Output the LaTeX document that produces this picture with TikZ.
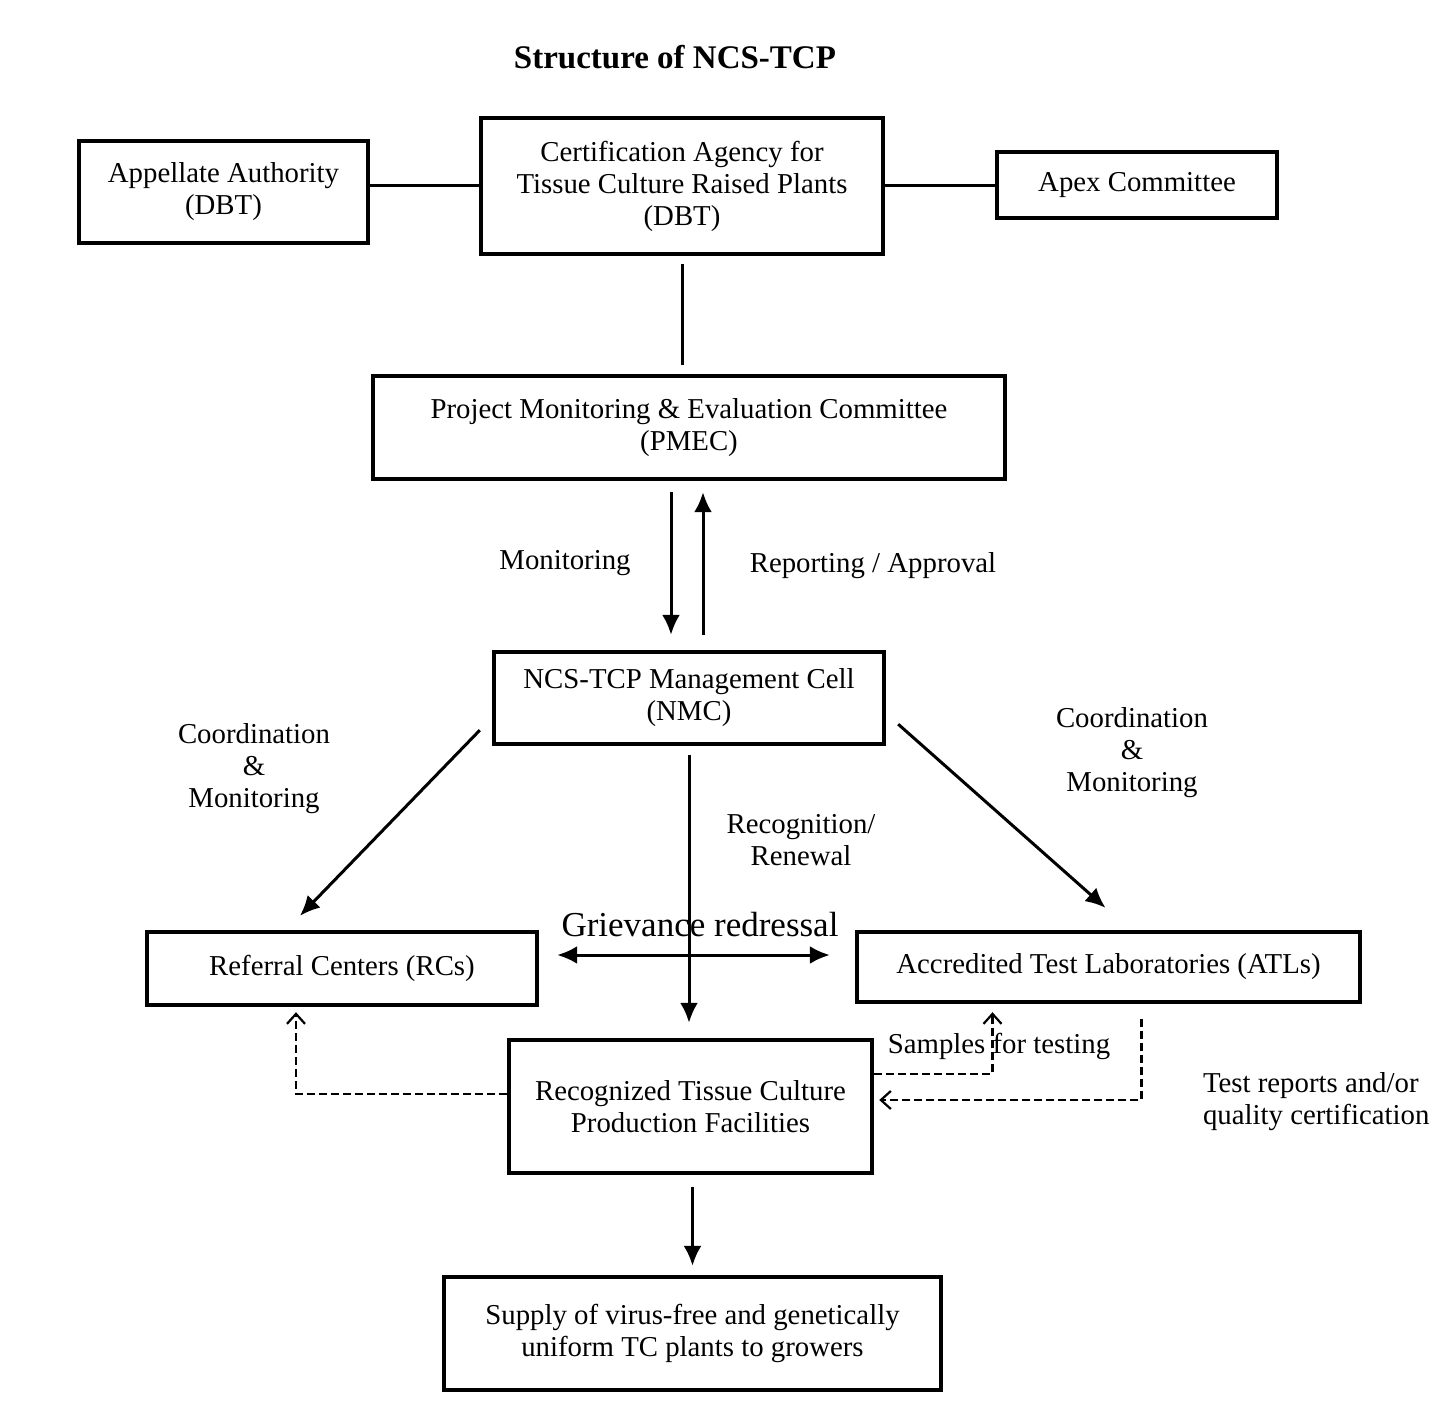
\documentclass[tikz,border=0pt]{standalone}
\usepackage{fontspec}
\setmainfont{Liberation Serif}
\usetikzlibrary{arrows.meta}
\newcommand{\boxfont}{\fontsize{14.4}{16}\selectfont}

\begin{document}
\begin{tikzpicture}[x=0.5pt,y=-0.5pt,
        box/.style={draw, line width=2.2pt, align=center, inner sep=0pt, font=\boxfont},
        lbl/.style={align=center, font=\boxfont},
        link/.style={line width=1.5pt},
        flow/.style={line width=1.5pt, -{Latex[length=10pt,width=9pt]}},
        dashflow/.style={line width=1.1pt, dash pattern=on 4pt off 2pt, -{Straight Barb[length=5pt,width=9pt]}}
    ]
    \useasboundingbox (0,0) rectangle (1455,1423);

    \node[font=\fontsize{16.5}{18}\selectfont\bfseries] (title) at (675,57) {Structure of NCS-TCP};

    % top row
    \node[box, minimum width=144.5pt, minimum height=51pt] (appellate) at (223.5,192) {Appellate Authority\\(DBT)};
    \node[box, minimum width=201pt, minimum height=68pt] (certagency) at (682,186) {Certification Agency for\\Tissue Culture Raised Plants\\(DBT)};
    \node[box, minimum width=140pt, minimum height=33pt] (apex) at (1137,185) {Apex Committee};

    \node[box, minimum width=316pt, minimum height=51.5pt] (pmec) at (689,427.5) {Project Monitoring \& Evaluation Committee\\(PMEC)};
    \node[box, minimum width=195pt, minimum height=46pt] (nmc) at (689,698) {NCS-TCP Management Cell\\(NMC)};

    \node[box, minimum width=195pt, minimum height=36.5pt] (rc) at (342,968.5) {Referral Centers (RCs)};
    \node[box, minimum width=251.5pt, minimum height=35pt] (atl) at (1108.5,967) {Accredited Test Laboratories (ATLs)};
    \node[box, minimum width=181.5pt, minimum height=66.5pt] (rtcpf) at (690.5,1106.5) {Recognized Tissue Culture\\Production Facilities};
    \node[box, minimum width=248.5pt, minimum height=56.5pt] (supply) at (692.5,1333.5) {Supply of virus-free and genetically\\uniform TC plants to growers};

    % labels
    \node[lbl] (monlbl) at (565,563) {Monitoring};
    \node[lbl] (replbl) at (873,566) {Reporting / Approval};
    \node[lbl] (coordL) at (254,769) {Coordination\\\&\\Monitoring};
    \node[lbl] (coordR) at (1132,753) {Coordination\\\&\\Monitoring};
    \node[lbl] (recoglbl) at (801,840) {Recognition/\\Renewal};
    \node[font=\fontsize{17.5}{19}\selectfont] (grievlbl) at (700,925) {Grievance redressal};
    \node[lbl] (samplbl) at (999,1046) {Samples for testing};
    \node[lbl, align=left, anchor=west] (testlbl) at (1196,1102) {Test reports and/or\\quality certification};

    % connectors
    \draw[link] (appellate.east |- certagency.east) -- (certagency.west);
    \draw[link] (certagency.east) -- (apex.west |- certagency.east);
    \draw[link, shorten <=4pt, shorten >=4.5pt] (certagency.south) -- (certagency.south |- pmec.north);

    \draw[flow, shorten <=5.5pt, shorten >=7.5pt] ([xshift=-9pt]pmec.south) -- ([xshift=-9pt]nmc.north);
    \draw[flow, shorten <=7.5pt, shorten >=5.5pt] ([xshift=7pt]nmc.north) -- ([xshift=7pt]pmec.south);

    \draw[flow] ([shift={(-12,-16)}]nmc.south west) -- ([shift={(-42,-14)}]rc.north);
    \draw[flow] ([shift={(12,-22)}]nmc.south east) -- ([shift={(-3,-22)}]atl.north);
    \draw[flow, shorten <=4.5pt, shorten >=7.5pt] (nmc.south) -- (nmc.south |- rtcpf.north);

    \draw[line width=1.5pt, {Latex[length=10pt,width=9pt]}-{Latex[length=10pt,width=9pt]}]
        ([shift={(18,-13.5)}]rc.east) -- ([shift={(-25,-12)}]atl.west);

    \draw[dashflow] ([shift={(0,-12.5)}]rtcpf.west) -| ([shift={(-46,5)}]rc.south);
    \draw[dashflow] ([shift={(0,-32.5)}]rtcpf.east) -| ([shift={(-116,8)}]atl.south);
    \draw[dashflow] ([shift={(33,15)}]atl.south) |- ([shift={(5,-6.5)}]rtcpf.east);

    \draw[flow, shorten <=6pt, shorten >=4.5pt] ([xshift=1pt]rtcpf.south) -- ([xshift=1pt]rtcpf.south |- supply.north);
\end{tikzpicture}
\end{document}
